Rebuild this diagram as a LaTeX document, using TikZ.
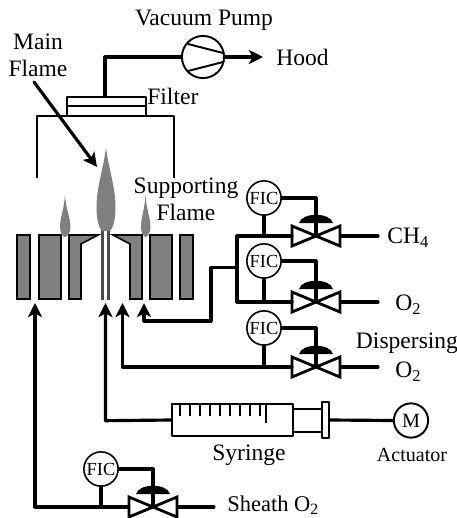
\documentclass[tikz,border=0pt]{standalone}
\usepackage{fontspec}
\setmainfont{Liberation Serif}
\usetikzlibrary{calc}
\usetikzlibrary{positioning}
\usetikzlibrary{arrows.meta}
\tikzset{
  pipe/.style={line width=1.8pt,line cap=round,line join=round},
  wire/.style={line width=1.1pt,line join=round},
  flowarrow/.style={pipe,-{Stealth[length=8pt,width=8pt,inset=2pt]}},
  block/.style={draw=black,line width=0.9pt,fill=black!50},
  flame/.style={fill=black!50,draw=none},
  tube/.style={line width=1.6pt,draw=black!70},
  fic/.style={circle,draw,line width=0.9pt,fill=white,minimum size=19.5pt,inner sep=0pt,font=\fontsize{10.5}{10.5}\selectfont},
  label/.style={inner sep=0pt,font=\fontsize{13.4}{15.5}\selectfont,align=center},
}
\begin{document}
\begin{tikzpicture}[x=0.02cm,y=-0.02cm]
        \useasboundingbox (0,0) rectangle (457,518);

        % hood and filter
        \draw[wire] (37,178)--(37,116)--(174,116)--(174,178);
        \node[draw,wire,minimum width=45pt,minimum height=11pt,inner sep=0pt,anchor=north west] (filter) at (66,96) {};
        \draw[wire] (66,106)--(145,106);

        % pump and exhaust
        \node[circle,draw,wire,minimum size=24pt,inner sep=0pt] (pump) at (203,57) {};
        \coordinate (pumpa) at (188,44);
        \coordinate (pumpb) at (188,71);
        \coordinate (pumpc) at (223,53);
        \coordinate (pumpd) at (223,62);
        \draw[wire] (pumpa)--(pumpc);
        \draw[wire] (pumpb)--(pumpd);
        \coordinate (hoodend) at (263,57);
        \draw[pipe] (105,96)--(105,57)--(pump.west);
        \draw[flowarrow] (pump.east)--(hoodend);

        % burner
        \draw[block] (17,235) rectangle (30,299);
        \draw[block] (39,235) rectangle (61,299);
        \draw[block] (69,235)--(98,235)--(81,244)--(81,299)--(69,299)--cycle;
        \draw[block] (142,235)--(113,235)--(130,244)--(130,299)--(142,299)--cycle;
        \draw[block] (150,235) rectangle (172,299);
        \draw[block] (180,235) rectangle (193,299);
        \draw[tube] (102.3,229)--(102.3,300);
        \draw[tube] (108.7,229)--(108.7,300);

        % flames
        \fill[flame] (106,148) .. controls (103,170) and (96.5,188) .. (96.5,207) .. controls (96.5,220) and (99,228) .. (102,231) -- (110,231) .. controls (113,228) and (115.5,220) .. (115.5,207) .. controls (115.5,188) and (109,170) .. (106,148);
        \fill[flame] (65,195) .. controls (64,210) and (60,218) .. (60,227) .. controls (60,233) and (63,237) .. (65,237) .. controls (67,237) and (70.5,233) .. (70.5,227) .. controls (70.5,218) and (66,210) .. (65,195);
        \fill[flame] (145.5,195) .. controls (144.5,210) and (141,218) .. (141,227) .. controls (141,233) and (144,237) .. (145.5,237) .. controls (147,237) and (150.5,233) .. (150.5,227) .. controls (150.5,218) and (146.5,210) .. (145.5,195);

        % lines into burner
        \coordinate (inlet1) at (35,303);
        \coordinate (inlet2) at (105.5,303);
        \coordinate (inlet3) at (122.5,303);
        \coordinate (inlet4) at (144,303);

        % valves with their controllers
        \foreach \vname/\vx/\vy/\fy in {ch/316/236/198,ox/316/302/261,dp/316/367/328,sh/153/507/469}{
          \coordinate (\vname) at (\vx,\vy);
          \node[fic] (fic\vname) at ({\vx-52},\fy) {FIC};
          \draw[pipe] (fic\vname.east)-|(\vname);
          \draw[pipe] (fic\vname.south)--(fic\vname.south|-\vname);
          \draw[line width=1.6pt,line join=miter] ({\vx-24},{\vy-10})--({\vx+24},{\vy+10})--({\vx+24},{\vy-10})--({\vx-24},{\vy+10})--cycle;
          \fill ({\vx-17},{\vy-13}) .. controls ({\vx-14},{\vy-24}) and ({\vx+14},{\vy-24}) .. ({\vx+17},{\vy-13})--cycle;
        }

        % feed lines
        \draw[pipe] (237,236)--(292,236);
        \draw[pipe] (237,302)--(292,302);
        \draw[pipe] (237,236)--(237,302);
        \draw[pipe] (341,236)--(378,236);
        \draw[pipe] (341,302)--(378,302);
        \draw[pipe] (341,367)--(378,367);
        \draw[pipe] (179,507)--(214,507);
        \draw[flowarrow] (237,267.7)--(211,267.7)--(211,321)--(144,321)--(inlet4);
        \draw[flowarrow] (292,367)--(122.5,367)--(inlet3);
        \draw[flowarrow] (128,507)--(35,507)--(inlet1);

        % syringe
        \node[draw,wire,minimum width=69pt,minimum height=18.5pt,inner sep=0pt] (barrel) at (232.5,420) {};
        \node[draw,wire,minimum width=4pt,minimum height=20.5pt,inner sep=0pt] (flange) at (325.5,420) {};
        \node[circle,draw,wire,minimum size=19.5pt,inner sep=0pt,font=\fontsize{11.5}{11.5}\selectfont] (motor) at (411,420.5) {M};
        \draw[wire] (293,409)--(322,409) (293,432)--(322,432);
        \foreach \tx in {180,190,...,260}{
          \draw[wire] (\tx,404)--(\tx,416);
        }
        \draw[wire] (266,404)--(266,423);
        \draw[flowarrow] (barrel.west)--(105.5,420.7)--(inlet2);
        \draw[pipe] (flange.east)--(motor.west);

        % labels
        \node[label] (mainlbl) at (38,55) {Main\\Flame};
        \draw[flowarrow] (34,82)--(97,167);
        \node[label] (vaclbl) at (204,20) {Vacuum Pump};
        \node[label,anchor=west] (hoodlbl) at (276,57) {Hood};
        \node[label,anchor=west] (filterlbl) at (147,96) {Filter};
        \node[label] (suplbl) at (186,199) {Supporting\\Flame};
        \node[label,anchor=west] (chlbl) at (387,238) {CH\textsubscript{4}};
        \node[label,anchor=west] (oxlbl) at (395,305) {O\textsubscript{2}};
        \node[label] (dplbl) at (407,343) {Dispersing};
        \node[label,anchor=west] (dpoxlbl) at (395,372) {O\textsubscript{2}};
        \node[label] (syrlbl) at (249,455) {Syringe};
        \node[label,font=\fontsize{11.4}{14}\selectfont] (actlbl) at (412,455) {Actuator};
        \node[label,anchor=west,font=\fontsize{12.8}{14}\selectfont] (shlbl) at (227,505) {Sheath O\textsubscript{2}};
    \end{tikzpicture}
\end{document}
